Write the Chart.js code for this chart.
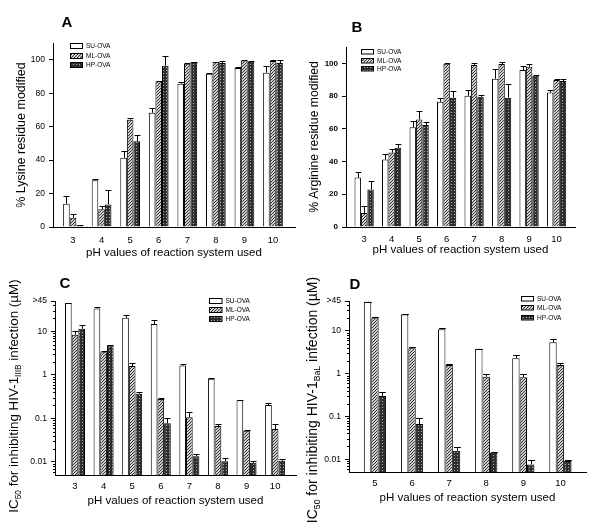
<!DOCTYPE html>
<html>
<head>
<meta charset="utf-8">
<script src="https://cdn.jsdelivr.net/npm/chart.js@4.4.0/dist/chart.umd.min.js"></script>
<style>
    body { margin: 0; background: #fff; }
    #wrap { position: relative; width: 600px; height: 530px; }
    .panel { position: absolute; width: 300px; height: 265px; }
</style>
</head>
<body>
<div id="wrap">
    <div class="panel" style="left:0;top:0"><canvas id="chartA" width="300" height="265"></canvas></div>
    <div class="panel" style="left:300px;top:0"><canvas id="chartB" width="300" height="265"></canvas></div>
    <div class="panel" style="left:0;top:265px"><canvas id="chartC" width="300" height="265"></canvas></div>
    <div class="panel" style="left:300px;top:265px"><canvas id="chartD" width="300" height="265"></canvas></div>
</div>
<script>
// Categories
const phValues = [3, 4, 5, 6, 7, 8, 9, 10];
const phValuesD = [5, 6, 7, 8, 9, 10];
const seriesLabels = ['SU-OVA', 'ML-OVA', 'HP-OVA'];

// Tick labels
const percentTicks = [0, 20, 40, 60, 80, 100];
const logTicks = [0.01, 0.1, 1, 10, 50];
const logTickLabels = ['0.01', '0.1', '1', '10', '>45'];

// A: % lysine residue modified (value, top of error bar)
const lysSU = [13.9, 27.9, 41.4, 68.3, 85.7, 91.6, 95.0, 92.2];
const lysSUerr = [18.5, 28.6, 45.4, 71.1, 86.7, 92.0, 95.6, 96.4];
const lysML = [5.6, 10.6, 64.1, 87.0, 97.6, 98.6, 99.6, 99.2];
const lysMLerr = [8.0, 12.5, 65.3, 87.4, 97.8, 98.8, 99.8, 99.6];
const lysHP = [1.0, 13.5, 51.2, 96.4, 98.6, 98.0, 98.8, 98.0];
const lysHPerr = [1.3, 21.9, 55.2, 102.0, 98.8, 99.4, 99.2, 100.0];

// B: % arginine residue modified
const argSU = [30.2, 41.2, 61.0, 76.5, 80.2, 90.6, 95.9, 82.2];
const argSUerr = [33.7, 44.5, 64.5, 78.8, 84.0, 96.3, 98.4, 83.7];
const argML = [8.6, 45.5, 65.7, 99.8, 99.0, 99.6, 98.0, 89.8];
const argMLerr = [12.9, 47.6, 70.6, 100.2, 100.0, 100.6, 99.4, 90.6];
const argHP = [22.9, 48.4, 62.4, 79.0, 79.6, 79.0, 92.4, 89.2];
const argHPerr = [28.0, 50.6, 64.3, 82.9, 80.6, 87.6, 92.6, 90.4];

// C: IC50 against HIV-1 IIIB (uM)
const iiibSU = [45, 33.4, 20.7, 14.8, 1.64, 0.82, 0.26, 0.203];
const iiibSUerr = [45, 37, 24.2, 18.6, 1.76, 0.84, 0.265, 0.23];
const iiibML = [8.4, 3.3, 1.6, 0.28, 0.107, 0.0666, 0.052, 0.057];
const iiibMLerr = [10, 3.6, 1.86, 0.30, 0.138, 0.074, 0.053, 0.073];
const iiibHP = [11.5, 4.8, 0.37, 0.077, 0.0135, 0.0104, 0.0095, 0.0106];
const iiibHPerr = [13.8, 4.8, 0.41, 0.104, 0.0155, 0.0122, 0.0104, 0.0118];

// D: IC50 against HIV-1 BaL (uM)
const balSU = [48, 24.2, 10.9, 3.8, 2.29, 5.4];
const balSUerr = [48, 25, 11.97, 3.8, 2.7, 6.3];
const balML = [19.8, 3.9, 1.6, 0.85, 0.82, 1.6];
const balMLerr = [21.6, 4.1, 1.65, 0.96, 0.96, 1.75];
const balHP = [0.30, 0.066, 0.0157, 0.0141, 0.0075, 0.0091];
const balHPerr = [0.37, 0.09, 0.0196, 0.0145, 0.0095, 0.0093];

const ARIAL = "'Liberation Sans', Arial, sans-serif";

// small tiles for the bar fills
function makePattern(ctx, kind) {
    const tile = document.createElement('canvas');
    const s = 3;
    tile.width = s; tile.height = s;
    const g = tile.getContext('2d');
    if (kind === 'hatch') {
        g.fillStyle = '#d0d0d0';
        g.fillRect(0, 0, s, s);
        g.fillStyle = '#333';
        for (let i = 0; i < s; i++) g.fillRect(i, s - 1 - i, 1, 1);
    } else {
        g.fillStyle = '#2e2e2e';
        g.fillRect(0, 0, s, s);
        g.fillStyle = '#b0b0b0';
        g.fillRect(1, 1, 1, 1);
    }
    return ctx.createPattern(tile, 'repeat');
}

const errorBars = {
    id: 'errorBars',
    afterDatasetsDraw(chart) {
        const ctx = chart.ctx;
        const yScale = chart.scales.y;
        ctx.save();
        ctx.strokeStyle = '#000';
        ctx.lineWidth = 1;
        chart.data.datasets.forEach((ds, i) => {
            chart.getDatasetMeta(i).data.forEach((bar, j) => {
                const yt = Math.round(yScale.getPixelForValue(ds.errTop[j])) + 0.5;
                const x = Math.round(bar.x) + 0.5;
                const half = bar.width * 0.45;
                ctx.beginPath();
                ctx.moveTo(x, bar.y);
                ctx.lineTo(x, yt);
                ctx.moveTo(x - half, yt);
                ctx.lineTo(x + half, yt);
                ctx.stroke();
            });
        });
        ctx.restore();
    }
};

// panel letter, rotated y title (with subscripts), legend, log minor ticks
const decor = {
    id: 'decor',
    afterDraw(chart, args, opts) {
        const ctx = chart.ctx;
        ctx.save();
        ctx.fillStyle = '#000';

        ctx.font = 'bold 15px ' + ARIAL;
        ctx.textAlign = 'center';
        ctx.textBaseline = 'middle';
        ctx.fillText(opts.letter, opts.letterX, opts.letterY);

        // y title
        const size = opts.titleSize;
        const parts = opts.titleParts;
        let total = 0;
        parts.forEach(p => {
            ctx.font = (p.sub ? size * 0.62 : size) + 'px ' + ARIAL;
            total += ctx.measureText(p.text).width;
        });
        ctx.translate(opts.titleX, opts.titleY);
        ctx.rotate(-Math.PI / 2);
        ctx.textAlign = 'left';
        ctx.textBaseline = 'alphabetic';
        let pos = -total / 2;
        parts.forEach(p => {
            ctx.font = (p.sub ? size * 0.62 : size) + 'px ' + ARIAL;
            ctx.fillText(p.text, pos, size * 0.36 + (p.sub ? size * 0.22 : 0));
            pos += ctx.measureText(p.text).width;
        });
        ctx.setTransform(1, 0, 0, 1, 0, 0);

        // legend
        const lg = opts.legend;
        ctx.font = '6.5px ' + ARIAL;
        ctx.textBaseline = 'middle';
        ctx.lineWidth = 1;
        ctx.strokeStyle = '#000';
        chart.data.datasets.forEach((ds, i) => {
            const y = Math.round(lg.y + i * lg.dy);
            ctx.fillStyle = ds.backgroundColor;
            ctx.fillRect(lg.x, y, lg.w, lg.h);
            ctx.strokeRect(lg.x + 0.5, y + 0.5, lg.w, lg.h);
            ctx.fillStyle = '#000';
            ctx.fillText(ds.label, lg.x + lg.w + 4, y + lg.h / 2 + 0.5);
        });

        // minor ticks on log axis
        const ys = chart.scales.y;
        if (ys.type === 'logarithmic') {
            const left = Math.round(chart.chartArea.left) + 0.5;
            ctx.beginPath();
            for (let e = -3; e <= 1; e++) {
                for (let k = 2; k <= 9; k++) {
                    const v = k * Math.pow(10, e);
                    if (v <= ys.min || v >= ys.max) continue;
                    const py = Math.round(ys.getPixelForValue(v)) + 0.5;
                    ctx.moveTo(left - 2.5, py);
                    ctx.lineTo(left, py);
                }
            }
            ctx.stroke();
        }
        ctx.restore();
    }
};

function buildChart(id, cfg) {
    const ctx = document.getElementById(id).getContext('2d');
    const fills = ['#ffffff', makePattern(ctx, 'hatch'), makePattern(ctx, 'cross')];
    const datasets = cfg.series.map((vals, i) => ({
        label: seriesLabels[i],
        data: cfg.x.map((xv, j) => ({ x: xv, y: vals[j] })),
        errTop: cfg.errors[i],
        backgroundColor: fills[i],
        borderColor: '#000',
        borderWidth: 1,
        categoryPercentage: cfg.catPct,
        barPercentage: 1.0
    }));

    const area = cfg.area;
    const tickFont = { family: ARIAL, size: cfg.yTickSize, weight: cfg.boldTicks ? 'bold' : 'normal' };
    let yScale;
    if (cfg.log) {
        yScale = {
            type: 'logarithmic', min: 0.005, max: 50,
            afterBuildTicks: s => { s.ticks = logTicks.map(v => ({ value: v })); },
            ticks: {
                autoSkip: false, padding: 4, color: '#000', font: tickFont,
                callback: v => { const k = logTicks.indexOf(v); return k >= 0 ? logTickLabels[k] : ''; }
            }
        };
    } else {
        yScale = {
            type: 'linear', min: 0, max: 110,
            afterBuildTicks: s => { s.ticks = percentTicks.map(v => ({ value: v })); },
            ticks: { autoSkip: false, padding: 4, color: '#000', font: tickFont }
        };
    }
    Object.assign(yScale, {
        afterFit: s => { s.width = area.left; },
        grid: { display: true, drawOnChartArea: false, drawTicks: true, tickLength: 4, color: '#000' },
        border: { display: true, color: '#000', width: 1 }
    });

    new Chart(ctx, {
        type: 'bar',
        data: { datasets },
        options: {
            responsive: false,
            animation: false,
            layout: { padding: { left: 0, top: area.top, right: 300 - area.right, bottom: 0 } },
            plugins: {
                legend: { display: false },
                tooltip: { enabled: false },
                decor: cfg.decor
            },
            scales: {
                x: {
                    type: 'linear', min: cfg.xMin, max: cfg.xMax, offset: false,
                    afterBuildTicks: s => { s.ticks = cfg.x.map(v => ({ value: v })); },
                    afterFit: s => { s.height = 265 - area.bottom; },
                    ticks: {
                        autoSkip: false, maxRotation: 0, padding: cfg.xTickPad, color: '#000',
                        font: { family: ARIAL, size: 9.5 },
                        callback: v => String(v)
                    },
                    grid: { display: false, drawTicks: false },
                    border: { display: true, color: '#000', width: 1 },
                    title: {
                        display: true, text: 'pH values of reaction system used', color: '#000',
                        font: { family: ARIAL, size: 11.5, lineHeight: 1.2 },
                        padding: { top: 0, bottom: cfg.xTitlePad }
                    }
                },
                y: yScale
            }
        },
        plugins: [errorBars, decor]
    });
}

document.addEventListener('DOMContentLoaded', function() {
    buildChart('chartA', {
        x: phValues, xMin: 2.3, xMax: 10.77, catPct: 0.69, yTickSize: 8.5,
        series: [lysSU, lysML, lysHP], errors: [lysSUerr, lysMLerr, lysHPerr],
        area: { left: 53, right: 295, top: 43, bottom: 227 },
        xTickPad: 8, xTitlePad: 5,
        decor: {
            letter: 'A', letterX: 67, letterY: 23,
            titleParts: [{ text: '% Lysine residue modified' }], titleSize: 12.5, titleX: 20, titleY: 135,
            legend: { x: 70, y: 43, dy: 9.7, w: 12, h: 5 }
        }
    });
    buildChart('chartB', {
        x: phValues, xMin: 2.34, xMax: 10.67, catPct: 0.70, boldTicks: true, yTickSize: 8,
        series: [argSU, argML, argHP], errors: [argSUerr, argMLerr, argHPerr],
        area: { left: 46, right: 275, top: 47, bottom: 227 },
        xTickPad: 7, xTitlePad: 8,
        decor: {
            letter: 'B', letterX: 57, letterY: 28,
            titleParts: [{ text: '% Arginine residue modified' }], titleSize: 12.2, titleX: 14, titleY: 137,
            legend: { x: 61, y: 49, dy: 8.7, w: 12, h: 4.5 }
        }
    });
    buildChart('chartC', {
        x: phValues, xMin: 2.3, xMax: 10.73, catPct: 0.70, log: true, yTickSize: 8.6,
        series: [iiibSU, iiibML, iiibHP], errors: [iiibSUerr, iiibMLerr, iiibHPerr],
        area: { left: 55, right: 296, top: 36, bottom: 210 },
        xTickPad: 6, xTitlePad: 22,
        decor: {
            letter: 'C', letterX: 65, letterY: 19,
            titleParts: [
                { text: 'IC' }, { text: '50', sub: true },
                { text: ' for inhibiting HIV-1' }, { text: 'IIIB', sub: true },
                { text: ' infection (\u00b5M)' }
            ],
            titleSize: 13.4, titleX: 13, titleY: 131,
            legend: { x: 209, y: 33, dy: 8.8, w: 12.5, h: 5 }
        }
    });
    buildChart('chartD', {
        x: phValuesD, xMin: 4.3, xMax: 10.69, catPct: 0.6, log: true, yTickSize: 8.6,
        series: [balSU, balML, balHP], errors: [balSUerr, balMLerr, balHPerr],
        area: { left: 49, right: 286, top: 36, bottom: 207 },
        xTickPad: 6, xTitlePad: 25,
        decor: {
            letter: 'D', letterX: 55, letterY: 20,
            titleParts: [
                { text: 'IC' }, { text: '50', sub: true },
                { text: ' for inhibiting HIV-1' }, { text: 'BaL', sub: true },
                { text: ' infection (\u00b5M)' }
            ],
            titleSize: 14, titleX: 12, titleY: 135,
            legend: { x: 221, y: 31, dy: 9.3, w: 12, h: 4.5 }
        }
    });
});
</script>
</body>
</html>
